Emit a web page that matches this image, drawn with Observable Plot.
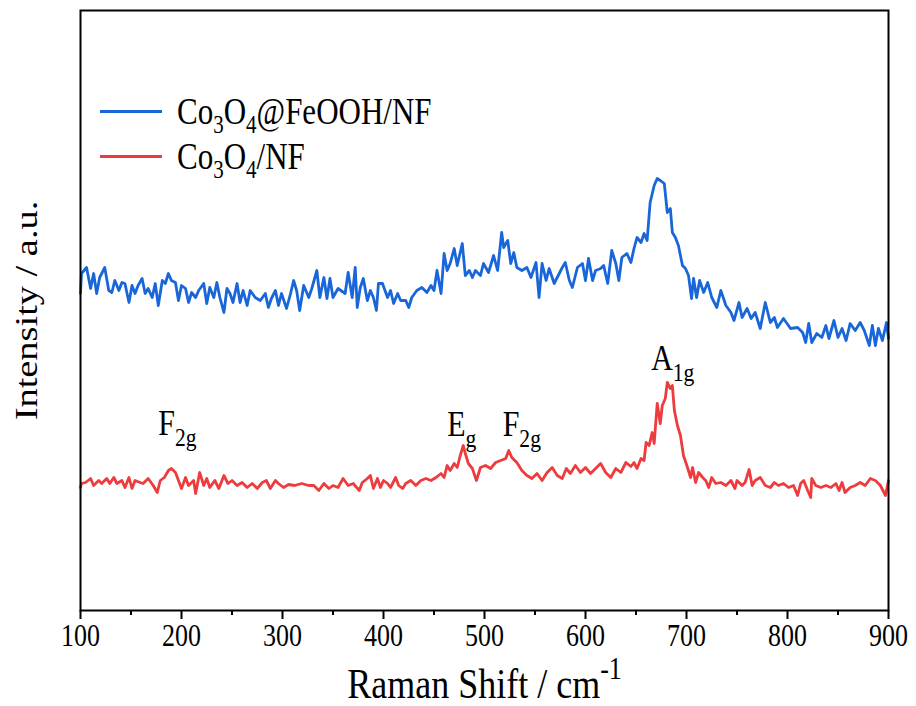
<!DOCTYPE html>
<html>
<head>
<meta charset="utf-8">
<script src="https://cdn.jsdelivr.net/npm/d3@7"></script>
<script src="https://cdn.jsdelivr.net/npm/@observablehq/plot@0.6"></script>
<style>
  html, body { margin: 0; padding: 0; background: #fff; }
  #wrap { position: relative; width: 916px; height: 706px; font-family: "Liberation Serif", "Times New Roman", serif; }
  #legend { position: absolute; left: 100px; top: 89px; font-size: 31px; color: #000; line-height: 45px; z-index: 5; }
  #legend .row { display: flex; align-items: center; white-space: nowrap; }
  #legend .sw { width: 62px; height: 3px; margin-right: 15px; margin-top: 0px; }
  #legend .lab { display: inline-block; transform: scaleY(1.2); transform-origin: center; }
  #legend sub { font-size: 21px; vertical-align: -7px; line-height: 0; }
</style>
</head>
<body>
<div id="wrap">
  <div id="legend"></div>
</div>
<script>
// ---- data ----
const xMajor = [100, 200, 300, 400, 500, 600, 700, 800, 900];
const xMinor = [150, 250, 350, 450, 550, 650, 750, 850];

const seriesNames = ["Co_{3}O_{4}@FeOOH/NF", "Co_{3}O_{4}/NF"];
const seriesColors = ["#1866d8", "#ee3b3d"];

const blueShift = [100,101,106,110,113,116,119,124,128,131,134,138,141,144,148,151,154,157,161,164,167,171,174,177,181,184,187,190,194,197,200,204,207,210,214,217,222,225,228,232,235,238,242,245,248,251,255,258,261,265,268,273,278,283,286,289,293,296,299,304,308,311,314,317,321,326,329,334,337,341,344,347,350,355,362,365,369,372,374,377,380,384,387,390,393,395,399,404,407,410,414,417,422,425,428,433,438,443,447,450,453,457,460,463,466,470,473,478,481,485,488,491,496,499,504,509,513,517,519,523,526,529,532,537,542,546,551,554,557,561,564,569,574,577,580,584,587,592,597,600,603,607,610,615,618,622,626,630,633,636,641,645,648,651,655,658,661,664,668,671,674,678,681,684,686,689,692,696,699,702,705,707,710,713,717,721,725,730,734,739,744,747,752,755,760,764,768,773,778,783,787,790,796,803,810,815,818,821,824,829,834,838,841,846,850,854,858,862,867,872,876,881,884,887,890,894,898,900];
const blueInt = [317,337,343,322,337,317,333,343,320,318,330,320,328,327,308,325,317,325,332,317,322,313,327,305,330,327,337,330,328,310,325,322,308,318,313,320,327,307,323,313,328,313,298,322,317,308,327,308,320,305,320,313,310,317,303,312,320,305,317,302,317,330,320,300,325,313,322,340,313,333,312,332,313,322,317,338,313,343,303,323,332,310,320,313,300,327,327,313,320,307,317,310,310,303,313,320,323,318,325,320,340,317,357,340,347,362,345,367,335,340,333,340,335,347,338,355,340,378,363,370,347,358,343,340,343,333,348,313,347,330,342,327,337,343,348,330,323,343,347,330,352,330,340,342,345,327,360,347,330,353,357,348,362,373,368,377,370,408,425,432,430,427,398,402,378,373,365,345,342,335,312,332,313,330,318,328,313,303,320,305,298,290,308,293,302,292,298,282,308,288,293,283,292,282,283,278,268,287,268,277,273,285,272,290,273,282,270,287,280,288,280,265,285,265,282,270,288,272];

const redShift = [100,101,105,110,113,118,121,126,129,133,136,141,144,148,151,154,159,162,167,172,176,179,183,187,190,194,197,200,204,207,212,214,218,222,225,228,233,237,242,246,250,255,260,265,270,275,280,284,288,293,296,301,306,312,319,326,331,336,341,346,350,355,360,365,370,376,379,384,387,390,394,397,400,404,407,412,415,419,422,427,432,437,442,447,452,457,460,463,466,470,473,476,479,481,484,488,492,496,501,506,511,516,521,524,527,532,537,542,547,552,557,562,567,572,577,581,585,590,595,600,605,610,615,620,625,630,635,640,645,648,651,655,658,660,663,666,668,671,674,676,679,681,684,686,688,691,694,697,701,704,706,709,712,716,719,722,725,729,734,739,744,748,750,755,758,762,765,768,773,778,783,787,791,796,801,806,810,813,816,820,823,824,828,833,838,843,848,851,854,857,862,867,872,877,882,887,892,897,900];
const redInt = [123,127,128,132,125,130,127,132,127,133,127,130,123,133,122,130,128,127,132,125,118,130,133,140,142,138,130,122,133,125,130,117,138,125,132,123,130,122,135,127,130,125,128,123,127,122,128,130,122,130,127,123,126,125,127,125,125,120,127,122,125,123,132,125,127,120,128,132,135,122,132,123,130,127,123,133,125,122,127,130,125,130,132,130,133,137,133,145,140,147,143,155,165,157,147,142,130,143,145,142,148,150,152,160,153,148,140,135,132,137,130,138,143,135,132,142,137,145,138,143,137,142,147,138,133,142,138,148,144,148,142,152,150,168,165,178,167,207,187,205,212,228,222,225,200,185,175,155,143,133,143,128,138,133,130,123,133,127,128,125,130,122,130,125,128,141,125,130,133,125,123,128,125,127,123,125,115,127,130,120,113,132,125,123,125,123,127,120,128,118,123,125,128,125,132,130,125,115,130];

// peak labels
const peakText = ["F_{2g}", "E_{g}", "F_{2g}", "A_{1g}"];
const peakShift = [177, 463, 518, 665];
const peakY = [177, 176, 176, 242];

// ---- build tables ----
const blue = blueShift.map((s, i) => ({shift: s, intensity: blueInt[i]}));
const red = redShift.map((s, i) => ({shift: s, intensity: redInt[i]}));
const peaks = peakText.map((t, i) => ({text: t, shift: peakShift[i], y: peakY[i]}));

const font = "'Liberation Serif', 'Times New Roman', serif";

const chart = Plot.plot({
  width: 916,
  height: 706,
  marginLeft: 80,
  marginRight: 28,
  marginTop: 10,
  marginBottom: 96,
  x: {domain: [100, 900]},
  y: {domain: [0, 600]},
  style: {fontFamily: font, fontSize: "26px", color: "#000", background: "#fff", overflow: "visible"},
  marks: [
    Plot.axisX({ticks: xMajor, tickSize: 9, strokeWidth: 2, tickPadding: 6, tickFormat: d => String(d),
      label: "Raman Shift / cm^{-1}", labelAnchor: "center", labelOffset: 84, labelArrow: "none"}),
    Plot.axisX({ticks: xMinor, tickSize: 5, strokeWidth: 2, tickFormat: () => "", label: null}),
    Plot.axisY({ticks: [], label: "Intensity / a.u.", labelAnchor: "center", labelOffset: 66, labelArrow: "none"}),
    Plot.line(blue, {x: "shift", y: "intensity", stroke: seriesColors[0], strokeWidth: 2.8, curve: "linear"}),
    Plot.line(red, {x: "shift", y: "intensity", stroke: seriesColors[1], strokeWidth: 2.8, curve: "linear"}),
    Plot.text(peaks, {x: "shift", y: "y", text: "text", textAnchor: "start", lineAnchor: "bottom", fontSize: 30, fill: "#000"}),
    Plot.frame({stroke: "#000", strokeWidth: 2})
  ]
});

// rich text: _{..} subscripts, ^{..} superscripts
function richify(t) {
  const s = t.textContent;
  if (!/[_^]\{/.test(s)) return;
  const fs = parseFloat(getComputedStyle(t).fontSize) || 26;
  const parts = s.split(/([_^]\{[^}]*\})/).filter(p => p.length);
  while (t.firstChild) t.removeChild(t.firstChild);
  const ns = "http://www.w3.org/2000/svg";
  let shift = 0;
  for (const p of parts) {
    const ts = document.createElementNS(ns, "tspan");
    let target = 0, content = p, small = false;
    if (p.startsWith("_{")) { target = fs * 0.3; content = p.slice(2, -1); small = true; }
    else if (p.startsWith("^{")) { target = -fs * 0.42; content = p.slice(2, -1); small = true; }
    ts.setAttribute("dy", (target - shift).toFixed(1));
    shift = target;
    if (small) ts.setAttribute("font-size", (fs * 0.72).toFixed(1));
    ts.textContent = content;
    t.appendChild(ts);
  }
}

// the reference text is drawn slightly tall (stretched vertically on the page)
const STRETCH = 1.2;
function stretch(t, alongX) {
  const b = t.getBBox();
  const prev = t.getAttribute("transform") || "";
  if (alongX) {
    const cx = b.x + b.width / 2;
    t.setAttribute("transform", `${prev} translate(${cx},0) scale(${STRETCH},1) translate(${-cx},0)`);
  } else {
    const cy = b.y + b.height / 2;
    t.setAttribute("transform", `${prev} translate(0,${cy}) scale(1,${STRETCH}) translate(0,${-cy})`);
  }
}

document.getElementById("wrap").appendChild(chart);
chart.style.position = "absolute";
chart.style.left = "0";
chart.style.top = "0";

// axis title sizes
chart.querySelectorAll('g[aria-label="x-axis label"] text').forEach(t => t.setAttribute("font-size", "36"));
chart.querySelectorAll('g[aria-label="y-axis label"] text').forEach(t => t.setAttribute("font-size", "32"));
chart.querySelectorAll("text").forEach(richify);
chart.querySelectorAll("text").forEach(t => {
  const isY = !!t.closest('g[aria-label="y-axis label"]');
  stretch(t, isY);
});

// legend
const legend = document.getElementById("legend");
const toHTML = s => s.replace(/_\{([^}]*)\}/g, "<sub>$1</sub>");
seriesNames.forEach((n, i) => {
  const row = document.createElement("div");
  row.className = "row";
  row.innerHTML = `<span class="sw" style="background:${seriesColors[i]}"></span><span class="lab">${toHTML(n)}</span>`;
  legend.appendChild(row);
});
</script>
</body>
</html>
